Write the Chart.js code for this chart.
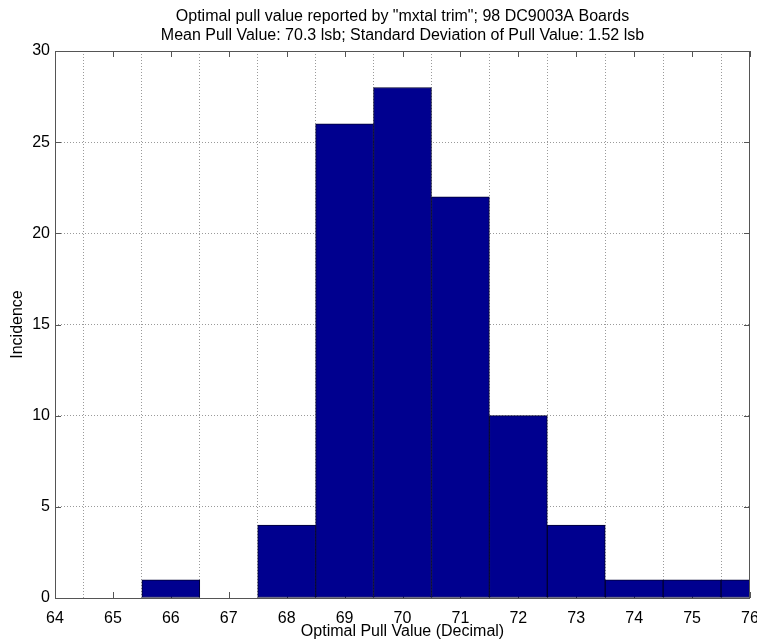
<!DOCTYPE html>
<html>
<head>
<meta charset="utf-8">
<title>Optimal pull value histogram</title>
<script src="https://cdn.jsdelivr.net/npm/chart.js@4.4.1/dist/chart.umd.min.js"></script>
<style>
    html, body { margin: 0; padding: 0; background: #fff; }
    #wrap { width: 757px; height: 643px; position: relative; }
</style>
</head>
<body>
<div id="wrap"><canvas id="histChart"></canvas></div>
<script>
// Histogram bins (bin centres) and counts
const binCenters = [66, 68, 69, 70, 71, 72, 73, 74, 75, 76];
const incidence = [1, 4, 26, 28, 22, 10, 4, 1, 1, 1];

// Axis ranges / ticks
const xTickValues = [64, 65, 66, 67, 68, 69, 70, 71, 72, 73, 74, 75, 76];
const yTickValues = [0, 5, 10, 15, 20, 25, 30];

const titleLines = [
    'Optimal pull value reported by "mxtal trim"; 98 DC9003A Boards',
    'Mean Pull Value: 70.3 lsb; Standard Deviation of Pull Value: 1.52 lsb'
];

const FONT = '"Liberation Sans", Arial, Helvetica, sans-serif';
Chart.defaults.color = '#000';
Chart.defaults.font.family = FONT;
Chart.defaults.font.size = 16;

// MATLAB-like box, inward tick marks and title over the axes
const matlabAxes = {
    id: 'matlabAxes',
    beforeDatasetsDraw(chart) {
        const { ctx, chartArea: a, scales } = chart;
        const len = 6;
        ctx.save();
        ctx.strokeStyle = '#555';
        ctx.lineWidth = 1;
        ctx.beginPath();
        xTickValues.forEach(v => {
            const x = Math.round(scales.x.getPixelForValue(v)) + 0.5;
            ctx.moveTo(x, a.bottom); ctx.lineTo(x, a.bottom - len);
            ctx.moveTo(x, a.top); ctx.lineTo(x, a.top + len);
        });
        yTickValues.forEach(v => {
            const y = Math.round(scales.y.getPixelForValue(v)) + 0.5;
            ctx.moveTo(a.left, y); ctx.lineTo(a.left + len, y);
            ctx.moveTo(a.right, y); ctx.lineTo(a.right - len, y);
        });
        ctx.stroke();
        ctx.restore();
    },
    afterDraw(chart) {
        const { ctx, chartArea: a } = chart;
        ctx.save();
        ctx.strokeStyle = '#555';
        ctx.lineWidth = 1;
        ctx.strokeRect(a.left + 0.5, a.top + 0.5, a.right - a.left - 1, a.bottom - a.top);
        ctx.fillStyle = '#000';
        ctx.font = '16px ' + FONT;
        ctx.textAlign = 'center';
        ctx.textBaseline = 'alphabetic';
        const cx = (a.left + a.right) / 2;
        ctx.fillText(titleLines[0], cx, 21);
        ctx.fillText(titleLines[1], cx, 40);
        ctx.restore();
    }
};

const ctx = document.getElementById('histChart').getContext('2d');
window.histChart = new Chart(ctx, {
    type: 'bar',
    data: {
        datasets: [{
            label: 'Incidence',
            data: binCenters.map((x, i) => ({ x: x, y: incidence[i] })),
            backgroundColor: '#00008F',
            borderColor: '#000030',
            borderWidth: 1,
            borderSkipped: false,
            barPercentage: 1.0,
            categoryPercentage: 1.0
        }]
    },
    options: {
        responsive: true,
        maintainAspectRatio: false,
        animation: false,
        layout: { padding: { top: 51, right: 7, left: 0, bottom: 0 } },
        plugins: {
            legend: { display: false },
            tooltip: { enabled: false },
            title: { display: false }
        },
        scales: {
            x: {
                type: 'linear',
                min: 64,
                max: 76,
                offset: false,
                afterFit: s => { s.height = 45; s.paddingLeft = 0; s.paddingRight = 0; },
                afterBuildTicks: s => { s.ticks = xTickValues.map(v => ({ value: v })); },
                ticks: { padding: 11, autoSkip: false, maxRotation: 0 },
                grid: { color: '#9a9a9a', drawTicks: false },
                border: { display: false, dash: [1, 2] },
                title: {
                    display: true,
                    text: 'Optimal Pull Value (Decimal)',
                    font: { size: 16 },
                    padding: { top: 0, bottom: 2 }
                }
            },
            y: {
                min: 0,
                max: 30,
                afterFit: s => { s.width = 55; s.paddingTop = 0; s.paddingBottom = 0; },
                afterBuildTicks: s => { s.ticks = yTickValues.map(v => ({ value: v })); },
                ticks: { padding: 5 },
                grid: { color: '#9a9a9a', drawTicks: false },
                border: { display: false, dash: [1, 2] },
                title: {
                    display: true,
                    text: 'Incidence',
                    font: { size: 16 },
                    padding: { top: 8, bottom: 0 }
                }
            }
        }
    },
    plugins: [matlabAxes]
});
</script>
</body>
</html>
